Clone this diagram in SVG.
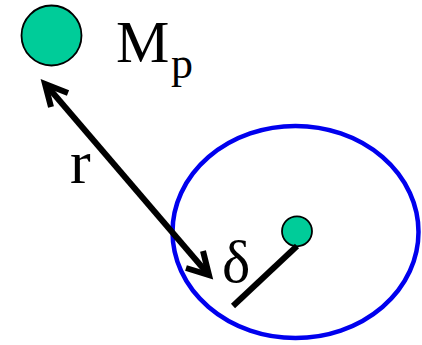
<svg xmlns="http://www.w3.org/2000/svg" width="422" height="345" viewBox="0 0 422 345">
<style>
.mass{fill:#00CC99;stroke:#000;stroke-width:1.8}
.lbl{font-family:"Liberation Serif","Times New Roman",serif;fill:#000}
.ln{fill:none;stroke:#000;stroke-width:6;stroke-linecap:butt;stroke-linejoin:miter}
</style>
<rect width="422" height="345" fill="#fff"/>
<g id="region">
<ellipse cx="295.5" cy="232" rx="123" ry="106" fill="none" stroke="#0000EE" stroke-width="4.5"/>
</g>
<g id="planet">
<circle class="mass" cx="51.5" cy="35.5" r="30"/>
<text class="lbl" x="116" y="62" font-size="60">M</text>
<text class="lbl" x="171" y="78" font-size="44">p</text>
</g>
<g id="body">
<circle class="mass" cx="297" cy="231.3" r="15"/>
</g>
<g id="connectors">
<line class="ln" x1="297" y1="246" x2="233" y2="306"/>
<line class="ln" x1="47" y1="86" x2="208" y2="274"/>
<polyline class="ln" points="68,93 45,84 51,107"/>
<polyline class="ln" points="203,251 209,275 186,268"/>
</g>
<text class="lbl" x="70" y="183" font-size="62">r</text>
<text class="lbl" x="222" y="282" font-size="60">δ</text>
</svg>
